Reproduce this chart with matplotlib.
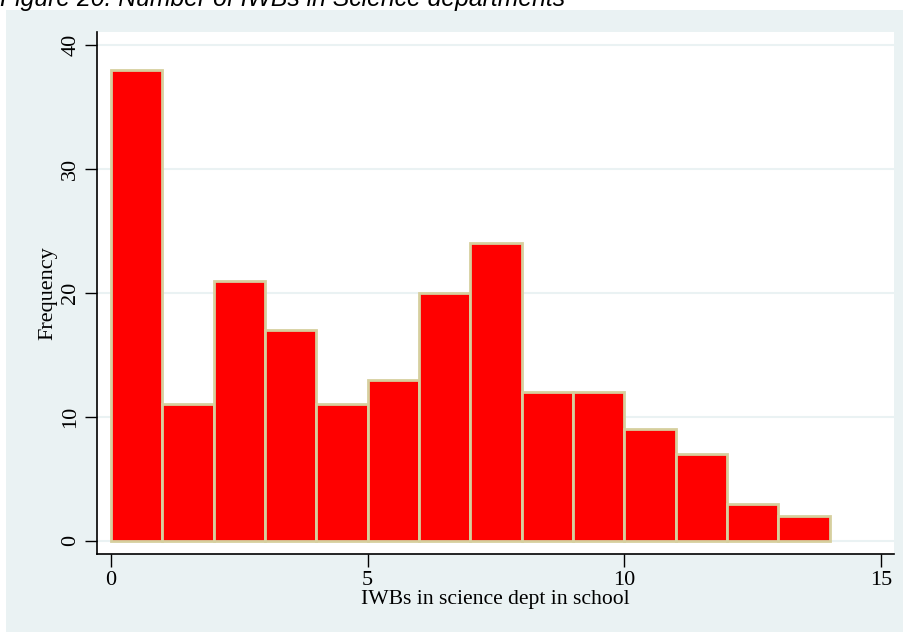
import matplotlib
matplotlib.use("Agg")
import matplotlib.pyplot as plt
from matplotlib.patches import Rectangle

# histogram of IWBs per science dept (bin width 1)
bin_starts = [0, 1, 2, 3, 4, 5, 6, 7, 8, 9, 10, 11, 12, 13]
frequencies = [38, 11, 21, 17, 11, 13, 20, 24, 12, 12, 9, 7, 3, 2]
x_ticks = [0, 5, 10, 15]
y_ticks = [0, 10, 20, 30, 40]

W, H = 904, 632
bg = "#eaf2f3"
serif = ["Liberation Serif", "DejaVu Serif"]

fig = plt.figure(figsize=(W / 100, H / 100), dpi=100)
fig.patch.set_facecolor("white")

# stata-ish outer panel, kept behind the axes
fig.patches.append(Rectangle((6 / W, 0), 1 - 6 / W, 1 - 10 / H,
                             transform=fig.transFigure, facecolor=bg,
                             edgecolor="none", zorder=-5))

fig.text(0, 1 - 6 / H, "Figure 20: Number of IWBs in Science departments",
         fontsize=17.8, style="italic", family=["Liberation Sans", "DejaVu Sans"],
         va="baseline", ha="left")

ax = fig.add_axes([97 / W, 1 - 554 / H, (894 - 97) / W, (554 - 32) / H])
ax.set_facecolor("white")

ax.bar(bin_starts, frequencies, width=1, align="edge", color="#ff0000",
       edgecolor="#d6cf9e", linewidth=2, zorder=3)

ax.set_xlim(-0.273, 15.25)
ax.set_ylim(-1.07, 41.06)
ax.set_xticks(x_ticks)
ax.set_yticks(y_ticks)
ax.grid(axis="y", color=bg, linewidth=1.5, zorder=1)
ax.set_axisbelow(True)

for s in ["top", "right"]:
    ax.spines[s].set_visible(False)
for s in ["left", "bottom"]:
    ax.spines[s].set_linewidth(1.2)

ax.tick_params(length=9, width=1, direction="out", labelsize=16, pad=3)
for lab in ax.get_xticklabels():
    lab.set_family(serif)
for lab in ax.get_yticklabels():
    lab.set_family(serif)
    lab.set_rotation(90)
    lab.set_va("center")

ax.set_xlabel("IWBs in science dept in school", fontsize=15.6, family=serif, labelpad=0)
ax.set_ylabel("Frequency", fontsize=16, family=serif, labelpad=3)

fig.savefig("out.png", dpi=100, facecolor=fig.get_facecolor())
